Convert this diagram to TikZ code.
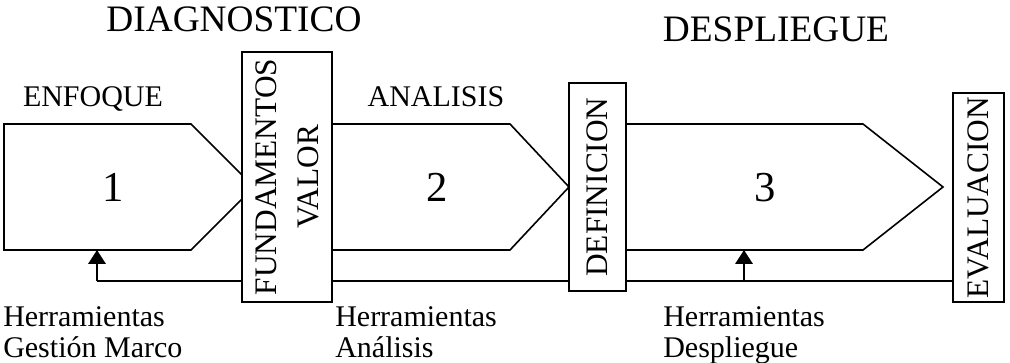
\documentclass[tikz,border=0pt]{standalone}
\usepackage{fontspec}
\setmainfont{Liberation Serif}
\usetikzlibrary{arrows.meta, calc}
\tikzset{
  phase/.style={draw=black, line width=1.2pt, line join=miter},
  gatebox/.style={
    rectangle, draw=black, line width=1.1pt, fill=white, rotate=90,
    align=center, inner sep=0pt,
    font=\fontsize{23.5}{31.5}\selectfont
  },
  title/.style={anchor=base, inner sep=0pt, font=\fontsize{28}{30}\selectfont},
  stagelabel/.style={anchor=base, inner sep=0pt, font=\fontsize{22.5}{24}\selectfont},
  stagenum/.style={anchor=base, inner sep=0pt, font=\fontsize{32}{36}\selectfont},
  toollabel/.style={anchor=north west, inner sep=0pt, align=left,
    font=\fontsize{22.5}{23.25}\selectfont},
  feedback/.style={line width=1.8pt, draw=black},
  feedarrow/.style={-{Triangle[width=13pt,length=10.5pt]}, line width=1.8pt, draw=black}
}
\begin{document}
\begin{tikzpicture}[x=0.75pt,y=-0.75pt]
\useasboundingbox (0,0) rectangle (1010,363);

% titles
\node[title] (diag) at (234,32) {DIAGNOSTICO};
\node[title] (desp) at (776,42) {DESPLIEGUE};
\node[stagelabel] (enf) at (93,107) {ENFOQUE};
\node[stagelabel] (ana) at (436,107) {ANALISIS};

% stage chevrons
\draw[phase] (4,124) -- (191,124) -- (254,187) -- (191,250) -- (4,250) -- cycle;
\draw[phase] (332,124) -- (510,124) -- (569,187) -- (510,250) -- (332,250) -- cycle;
\draw[phase] (626,124) -- (863,124) -- (943,187) -- (863,250) -- (626,250) -- cycle;
\node[stagenum] (one)   at (113,202) {1};
\node[stagenum] (two)   at (437,202) {2};
\node[stagenum] (three) at (765,202) {3};

\coordinate (ret1) at (97,281);
\coordinate (ret3) at (744,281);
\coordinate (in1) at (97,250);
\coordinate (in3) at (744,250);

% return line
\draw[feedback] (ret1) -- (953,281);
\draw[feedarrow] (ret1) -- (in1);
\draw[feedarrow] (ret3) -- (in3);

% gates
\node[gatebox, minimum width=187.5pt, minimum height=67.5pt] (fund) at (287,177)
  {FUNDAMENTOS\\VALOR};
\node[gatebox, minimum width=156pt, minimum height=42.75pt] (defi) at (597.5,187)
  {DEFINICION};
\node[gatebox, minimum width=156.75pt, minimum height=38.25pt] (eval) at (978.5,197.5)
  {EVALUACION};

% tools
\node[toollabel] (tool1) at (3,306) {Herramientas\\Gestión Marco};
\node[toollabel] (tool2) at (335,306) {Herramientas\\Análisis};
\node[toollabel] (tool3) at (663,306) {Herramientas\\Despliegue};

\end{tikzpicture}
\end{document}
